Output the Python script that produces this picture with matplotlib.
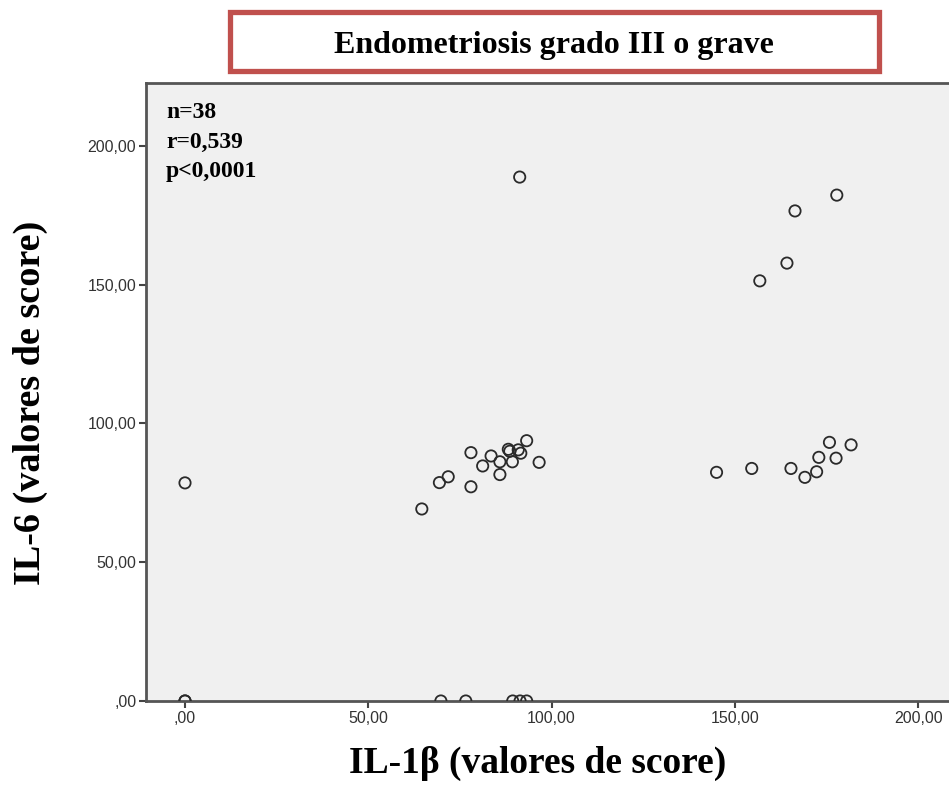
import matplotlib
matplotlib.use("Agg")
import matplotlib.pyplot as plt
from matplotlib.patches import Rectangle

# Data (IL-1β score vs IL-6 score)
il1b = [78.0, 93.2, 88.2, 88.6, 90.9, 91.6, 83.5, 85.9, 89.3, 96.6, 81.2, 71.8, 69.4,
        85.9, 78.0, 64.6,
        145.0, 154.6, 165.3, 169.1, 172.3, 172.9, 175.8, 177.6, 181.7,
        91.3, 177.8, 166.4, 164.2, 156.8,
        0.0,
        0.0, 0.0, 69.8, 76.6, 89.4, 91.4, 93.2]
il6 = [89.5, 93.8, 90.7, 90.0, 90.5, 89.3, 88.3, 86.2, 86.2, 86.0, 84.7, 80.8, 78.7,
       81.6, 77.2, 69.2,
       82.4, 83.8, 83.8, 80.6, 82.6, 87.8, 93.2, 87.5, 92.3,
       188.8, 182.3, 176.6, 157.8, 151.4,
       78.6,
       0.0, 0.0, 0.0, 0.0, 0.0, 0.0, 0.0]

xticks = [0, 50, 100, 150, 200]
yticks = [0, 50, 100, 150, 200]
xtick_labels = [",00", "50,00", "100,00", "150,00", "200,00"]
ytick_labels = [",00", "50,00", "100,00", "150,00", "200,00"]

title = "Endometriosis grado III o grave"
xlabel = "IL-1β (valores de score)"
ylabel = "IL-6 (valores de score)"
stats = ["n=38", "r=0,539", "p<0,0001"]

W, H = 949, 785
fig = plt.figure(figsize=(W / 100, H / 100), dpi=100)
fig.patch.set_facecolor("white")

ax = fig.add_axes([146 / W, (H - 701) / H, (W - 146) / W + 0.01, (701 - 83) / H])
ax.set_facecolor("#f0f0f0")
ax.scatter(il1b, il6, s=66, facecolors="none", edgecolors="#2a2a2a",
           linewidths=1.3, zorder=3, clip_on=True)

ax.set_xlim(-10.64, 211)
ax.set_ylim(0, 222.7)
ax.set_xticks(xticks)
ax.set_xticklabels(xtick_labels)
ax.set_yticks(yticks)
ax.set_yticklabels(ytick_labels)
for lab in ax.get_xticklabels() + ax.get_yticklabels():
    lab.set_fontfamily("Liberation Sans")
    lab.set_fontsize(11.5)
    lab.set_color("#333333")
ax.tick_params(axis="both", direction="out", length=5, width=1.5, color="#444444", pad=2)

for side in ["left", "bottom", "top"]:
    ax.spines[side].set_color("#555555")
    ax.spines[side].set_linewidth(2)
ax.spines["right"].set_visible(False)

# Stats text
for i, s in enumerate(stats):
    ax.text((166 - 146) / (W - 146 + 9.5), 1 - (113 - 83 + i * 29) / (701 - 83), s,
            transform=ax.transAxes, fontfamily="Liberation Serif", fontweight="bold",
            fontsize=17, va="center", ha="left", color="black")

# Axis labels
fig.text(538 / W, 1 - 763 / H, xlabel, ha="center", va="center",
         fontfamily="Liberation Serif", fontweight="bold", fontsize=27)
fig.text(30 / W, 1 - 403 / H, ylabel, ha="center", va="center", rotation=90,
         fontfamily="Liberation Serif", fontweight="bold", fontsize=27.5)

# Title box
fig.patches.append(Rectangle((230 / W, 1 - 71 / H), (879 - 230) / W, (71 - 12) / H,
                             transform=fig.transFigure, facecolor="white",
                             edgecolor="#c0504d", linewidth=3.8, zorder=5))
fig.text(554 / W, 1 - 45 / H, title, ha="center", va="center",
         fontfamily="Liberation Serif", fontweight="bold", fontsize=23, zorder=6)

fig.savefig("out.png", dpi=100)
